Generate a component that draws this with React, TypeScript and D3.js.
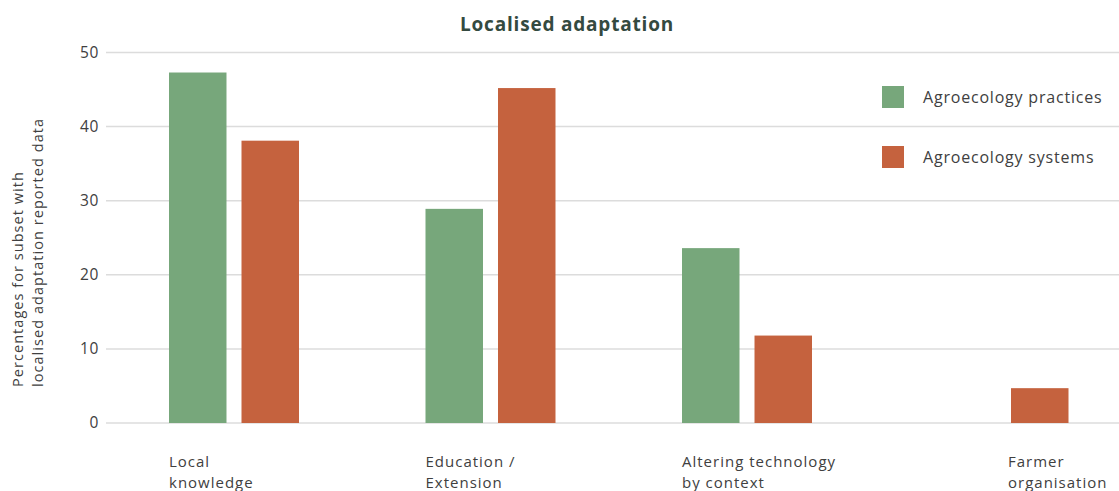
import React from "react";
import * as d3 from "d3";

const categories = ["Local knowledge", "Education / Extension", "Altering technology by context", "Farmer organisation"];
const categoryLines = [["Local", "knowledge"], ["Education /", "Extension"], ["Altering technology", "by context"], ["Farmer", "organisation"]];
const seriesNames = ["Agroecology practices", "Agroecology systems"];
const practicesValues: (number | null)[] = [47.3, 28.9, 23.6, null];
const systemsValues: (number | null)[] = [38.1, 45.2, 11.8, 4.7];
const yTicks = [0, 10, 20, 30, 40, 50];
const colors = ["#77a77b", "#c5623e"];

const W = 1119;
const H = 491;
const FONT = "'Open Sans', Lato, sans-serif";
const TXT = "#404040";

export default function App() {
  const y = d3.scaleLinear().domain([0, 50]).range([423, 52.5]);
  const x = d3.scaleBand<string>().domain(categories).range([169, 1068.5]).paddingInner(0.4932).paddingOuter(0);
  const xs = d3.scaleBand<string>().domain(seriesNames).range([0, x.bandwidth()]).paddingInner(0.207).paddingOuter(0);
  const series = [practicesValues, systemsValues];

  return (
    <svg width={W} height={H} style={{ position: "absolute", left: 0, top: 0 }} fontFamily={FONT}>
      <text x={567} y={31} textAnchor="middle" fontSize={19} fontWeight={700} letterSpacing={0.8} fill="#344a40">Localised adaptation</text>
      {yTicks.map((t) => (
        <g key={t}>
          <line x1={106} x2={W} y1={y(t)} y2={y(t)} stroke="#dcdcdc" strokeWidth={1.5} />
          <text x={99} y={y(t)} dy="0.35em" textAnchor="end" fontSize={15.5} letterSpacing={0.6} fill={TXT}>{t}</text>
        </g>
      ))}
      <g transform="translate(23,387) rotate(-90)" fontSize={14.5} letterSpacing={1.05} fill={TXT}>
        <text x={0} y={0} textAnchor="start">Percentages for subset with</text>
        <text x={0} y={19.5} textAnchor="start">localised adaptation reported data</text>
      </g>
      {categories.map((c, i) => (
        <g key={c} transform={`translate(${x(c)},0)`}>
          {series.map((s, j) =>
            s[i] == null ? null : (
              <rect key={j} x={xs(seriesNames[j])} width={xs.bandwidth()} y={y(s[i] as number)} height={y(0) - y(s[i] as number)} fill={colors[j]} />
            )
          )}
        </g>
      ))}
      {categories.map((c, i) => {
        const last = i === categories.length - 1;
        const lx = last ? (x(c) as number) + (xs(seriesNames[1]) as number) - 3 : (x(c) as number);
        return (
          <text key={c} x={lx} y={467} textAnchor="start" fontSize={15} letterSpacing={1.0} fill={TXT}>
            {categoryLines[i].map((l, k) => (
              <tspan key={k} x={lx} dy={k === 0 ? 0 : 20.5}>{l}</tspan>
            ))}
          </text>
        );
      })}
      {seriesNames.map((n, j) => (
        <g key={n} transform={`translate(882,${86 + j * 60})`}>
          <rect width={22} height={22} fill={colors[j]} />
          <text x={41} y={11} dy="0.35em" fontSize={16} letterSpacing={0.8} fill={TXT}>{n}</text>
        </g>
      ))}
    </svg>
  );
}
